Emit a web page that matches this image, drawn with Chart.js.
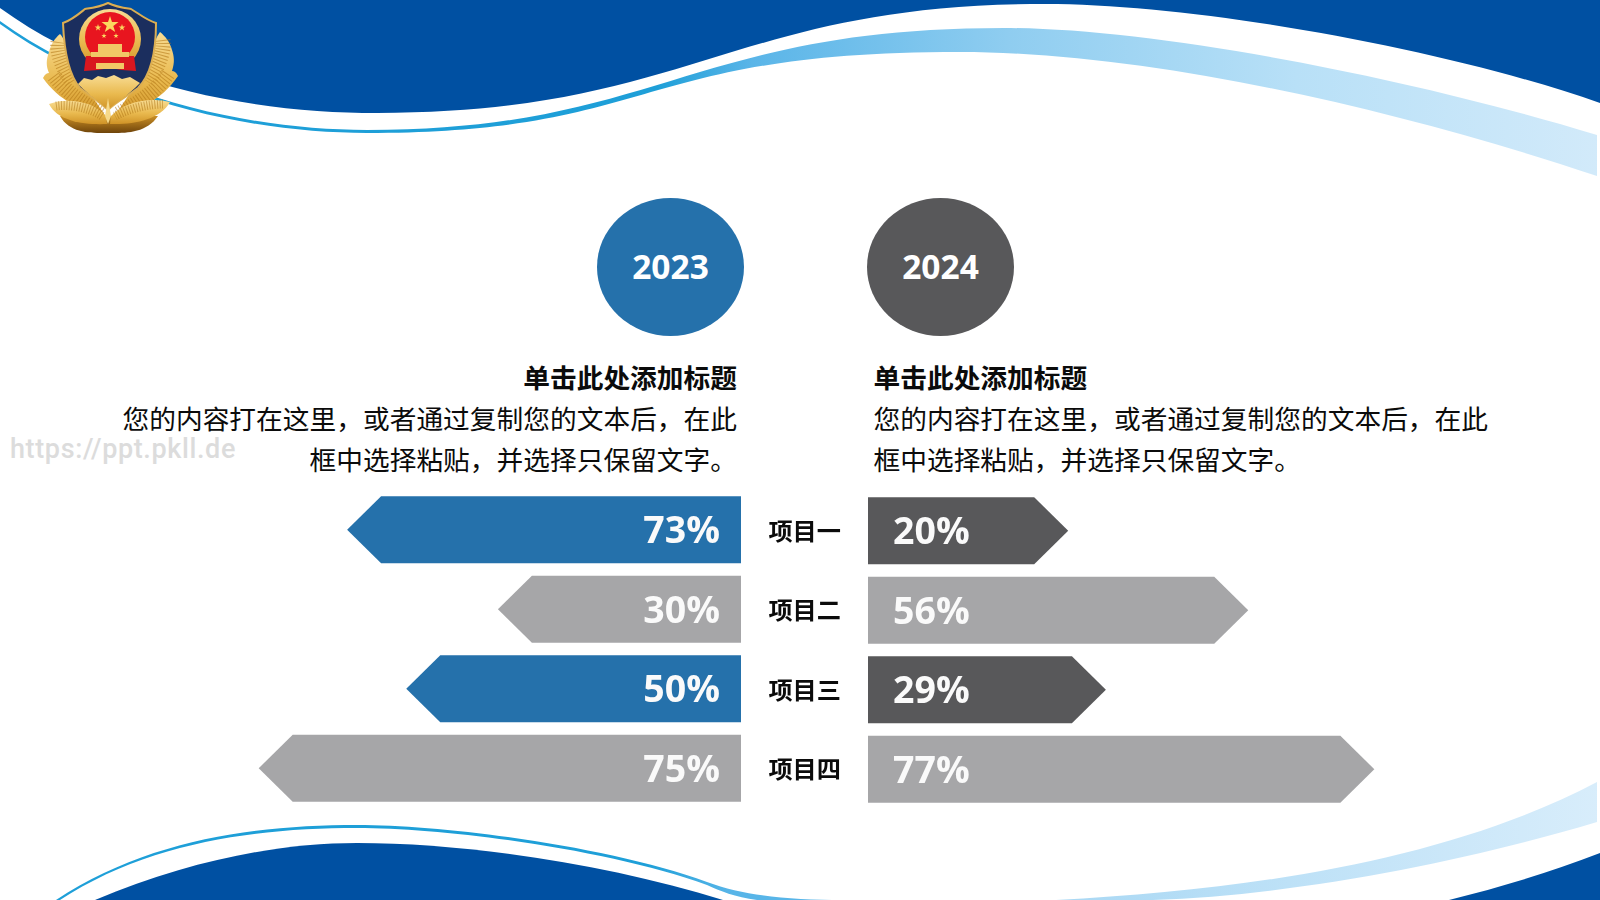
<!DOCTYPE html>
<html lang="zh-CN">
<head>
<meta charset="utf-8">
<title>2023 / 2024</title>
<script src="https://cdn.jsdelivr.net/npm/chart.js@4/dist/chart.umd.min.js"></script>
<style>
html,body{margin:0;padding:0;background:#fff;width:1600px;height:900px;overflow:hidden}
#stage{position:relative;width:1600px;height:900px;overflow:hidden;font-family:"Noto Sans CJK SC","Noto Sans",sans-serif;color:#0b0b0b}
#bg{position:absolute;left:0;top:0}
canvas.c{position:absolute}
.t{position:absolute;font-size:26.7px;line-height:41px;white-space:nowrap;letter-spacing:.03px}
.b{font-weight:700}
.r{text-align:right}
.year{position:absolute;top:197.5px;width:147px;height:138px;border-radius:50%;color:#fff;font:700 33.5px/137px "Open Sans",sans-serif;text-align:center}
#wm{position:absolute;left:10px;top:431px;font:500 27px/36px Roboto,sans-serif;color:#dcdcdc;letter-spacing:.62px;white-space:nowrap}
</style>
</head>
<body>
<div id="stage">
<svg id="bg" width="1600" height="900" viewBox="0 0 1600 900" xmlns="http://www.w3.org/2000/svg">
<defs>
<linearGradient id="bandTop" gradientUnits="userSpaceOnUse" x1="0" y1="0" x2="1600" y2="0">
<stop offset="0" stop-color="#1e9fd8"/><stop offset=".41" stop-color="#1e9fd8"/><stop offset=".47" stop-color="#5ab5e8"/><stop offset=".63" stop-color="#8fcdf0"/><stop offset=".81" stop-color="#b8e0f7"/><stop offset="1" stop-color="#d2eafa"/>
</linearGradient>
<linearGradient id="bandBotL" gradientUnits="userSpaceOnUse" x1="0" y1="0" x2="850" y2="0">
<stop offset="0" stop-color="#1e9fd8"/><stop offset=".76" stop-color="#1e9fd8"/><stop offset=".86" stop-color="#58b5e8"/><stop offset="1" stop-color="#58b5e8"/>
</linearGradient>
<linearGradient id="bandBot" gradientUnits="userSpaceOnUse" x1="1056" y1="0" x2="1600" y2="0">
<stop offset="0" stop-color="#a9d8f4"/><stop offset="1" stop-color="#d8edfb"/>
</linearGradient>
<linearGradient id="gold" x1="0" y1="0" x2="0" y2="1">
<stop offset="0" stop-color="#f8dc93"/><stop offset=".55" stop-color="#e9b94e"/><stop offset="1" stop-color="#cf9226"/>
</linearGradient>
<linearGradient id="base" x1="0" y1="0" x2="0" y2="1">
<stop offset="0" stop-color="#c98e25"/><stop offset="1" stop-color="#6f440a"/>
</linearGradient>
</defs>
<!-- top waves -->
<path fill="#0050a2" d="M0 0 L0 8 C110 88 260 113 377 113 C690 113 732 4 1045 4 C1200 4 1450 50 1600 103 L1600 0 Z"/>
<path fill="url(#bandTop)" d="M0 21 C110 100 255 130 367 130 C657 130 691 28 1004 28 C1150 28 1400 75 1597 135 L1597 176 C1400 110 1150 52 960 52 C631 52 660 133 367 133 C255 133 110 103 0 24 Z"/>
<!-- bottom waves -->
<path fill="#0050a2" d="M95 900 C190 860 280 843 357 843 C470 843 610 865 723 900 Z"/>
<path fill="#0050a2" d="M1449 900 Q1530 880 1600 853 L1600 900 Z"/>
<path fill="url(#bandBotL)" d="M56 900 C150 838 260 825 357 825 C450 825 610 847 707 882 C745 896 790 900 843 900 L757 900 C735 897 720 891 707 885 C610 850 450 828 357 828 C260 828 150 841 60 900 Z"/>
<path fill="url(#bandBot)" d="M1056 900 C1250 890 1450 860 1597 782 L1597 822 C1470 860 1300 895 1153 900 Z"/>
<g id="emblem">
<!-- laurel wings -->
<path d="M108 120 C84 112 58 100 43 78 C45 74 47 73 49 73 C46 66 46 60 49 52 C51 44 55 38 60 34 C66 40 72 60 84 84 Z" fill="url(#gold)"/>
<path d="M112 120 C136 112 162 100 178 76 C176 72 174 71 172 71 C175 62 174 56 172 50 C170 42 165 36 160 32 C154 40 148 60 136 84 Z" fill="url(#gold)"/>
<g fill="none" stroke="#b07414" opacity=".55" stroke-width="15" stroke-dasharray="1 2">
<path d="M54 76 C66 92 84 104 102 114"/>
<path d="M168 74 C156 92 136 104 118 114"/>
<path d="M58 42 C56 54 64 70 72 82"/>
<path d="M163 40 C165 54 156 70 148 82"/>
</g>
<!-- shield -->
<path d="M63 23 C72 20 80 13 85 9 C92 8 100 7 108 3 C116 7 124 8 131 9 C138 13 146 20 156 23 C156 48 152 74 138 88 C128 96 116 102 108 110 C100 102 90 96 80 88 C68 74 64 48 63 23 Z" fill="#1b2e5e" stroke="#dcae52" stroke-width="2"/>
<!-- city wall bottom -->
<path d="M78 84 L84 78 L92 80 L98 76 L106 78 L114 75 L122 79 L130 77 L140 83 C128 96 116 102 108 110 C100 102 90 96 78 84 Z" fill="url(#gold)"/>
<!-- state emblem -->
<ellipse cx="110" cy="39" rx="31" ry="30" fill="url(#gold)"/>
<ellipse cx="110" cy="37" rx="25" ry="25" fill="#e8151f"/>
<path d="M86 56 L134 56 L136 71 L122 70 L110 68 L98 70 L84 71 Z" fill="#d9171f"/>
<path d="M91 52 L129 52 L129 57 L91 57 Z M98 44 L122 44 L122 52 L98 52 Z M96 63 L124 63 L124 69 L96 69 Z" fill="#f1c866"/>
<path d="M110 16 L112 22 L118.5 22 L113.3 26 L115.2 32 L110 28.4 L104.8 32 L106.7 26 L101.5 22 L108 22 Z M98 24 L98.8 26.4 L101.4 26.4 L99.3 28 L100 30.4 L98 29 L96 30.4 L96.7 28 L94.6 26.4 L97.2 26.4 Z M122 24 L122.8 26.4 L125.4 26.4 L123.3 28 L124 30.4 L122 29 L120 30.4 L120.7 28 L118.6 26.4 L121.2 26.4 Z M104 33 L104.6 35 L106.6 35 L105 36.2 L105.6 38 L104 37 L102.4 38 L103 36.2 L101.4 35 L103.4 35 Z M116 33 L116.6 35 L118.6 35 L117 36.2 L117.6 38 L116 37 L114.4 38 L115 36.2 L113.4 35 L115.4 35 Z" fill="#fbd75f"/>
<!-- base -->
<path d="M60 116 C70 134 92 133 108 133 C124 133 146 134 158 116 Z" fill="url(#base)"/>
<path d="M49 104 C66 97 94 101 106 116 L107 124 C86 125 58 122 49 104 Z" fill="url(#gold)"/>
<path d="M170 102 C152 97 124 101 111 116 L110 124 C132 125 160 120 170 102 Z" fill="url(#gold)"/>
<g fill="none" stroke="#a96f12" opacity=".5" stroke-width="9" stroke-dasharray="1 1.6">
<path d="M56 106 C70 104 90 108 102 116"/>
<path d="M163 104 C150 104 130 108 115 116"/>
</g>
<path d="M108 98 L105 116 L108 124 L111 116 Z" fill="#f6d98a"/>
</g>
</svg>

<div class="year" style="left:597px;background:#2571ab">2023</div>
<div class="year" style="left:867px;background:#58585a">2024</div>

<div class="t b r" style="right:863px;top:356px">单击此处添加标题</div>
<div class="t r" style="right:863px;top:397px">您的内容打在这里，或者通过复制您的文本后，在此</div>
<div class="t r" style="right:863px;top:438px">框中选择粘贴，并选择只保留文字。</div>
<div class="t b" style="left:873.5px;top:356px">单击此处添加标题</div>
<div class="t" style="left:873.5px;top:397px">您的内容打在这里，或者通过复制您的文本后，在此</div>
<div class="t" style="left:873.5px;top:438px">框中选择粘贴，并选择只保留文字。</div>
<div id="wm">https://ppt.pkll.de</div>

<canvas class="c" id="left" width="650" height="318" style="left:91px;top:490px"></canvas>
<canvas class="c" id="right" width="777" height="318" style="left:741px;top:491px"></canvas>
</div>

<script>
// ---- chart data ----
const categories = ['项目一', '项目二', '项目三', '项目四'];
// percentages printed on the arrows
const labels2023 = [73, 30, 50, 75];
const labels2024 = [20, 56, 29, 77];
// arrow lengths as drawn in the reference (they do not track the printed numbers)
const lengths2023 = [60.6, 37.4, 51.5, 74.2];
const lengths2024 = [30.8, 58.5, 36.6, 77.9];
const colors2023 = ['#2571ab', '#a6a6a8', '#2571ab', '#a6a6a8'];
const colors2024 = ['#58585a', '#a6a6a8', '#58585a', '#a6a6a8'];

// ---- arrow bars and their labels ----
const arrowBars = {
  id: 'arrowBars',
  beforeDatasetDraw(chart, args) {
    const ctx = chart.ctx, meta = args.meta, ds = chart.data.datasets[args.index];
    const sign = ds.direction;
    meta.data.forEach((el, i) => {
      const h = el.height / 2, head = 34;
      ctx.save();
      ctx.fillStyle = el.options.backgroundColor;
      ctx.beginPath();
      ctx.moveTo(el.base, el.y - h);
      ctx.lineTo(el.x - sign * head, el.y - h);
      ctx.lineTo(el.x, el.y);
      ctx.lineTo(el.x - sign * head, el.y + h);
      ctx.lineTo(el.base, el.y + h);
      ctx.closePath();
      ctx.fill();
      ctx.fillStyle = '#fafafa';
      ctx.font = '700 37.5px "Open Sans", sans-serif';
      ctx.textBaseline = 'middle';
      ctx.textAlign = sign < 0 ? 'right' : 'left';
      ctx.fillText(ds.shown[i] + '%', el.base + sign * (sign < 0 ? 21 : 25), el.y + 3);
      ctx.restore();
    });
    return false;
  }
};

function build(id, lengths, shown, colors, reverse, withLabels) {
  return new Chart(document.getElementById(id), {
    type: 'bar',
    data: {
      labels: categories,
      datasets: [{ data: lengths, shown, direction: reverse ? -1 : 1, backgroundColor: colors, barThickness: 67 }]
    },
    options: {
      indexAxis: 'y',
      responsive: false,
      animation: false,
      layout: { padding: 0 },
      plugins: { legend: { display: false }, tooltip: { enabled: false } },
      scales: {
        x: { display: false, reverse, min: 0, max: 100 },
        y: {
          display: withLabels,
          border: { display: false },
          grid: { display: false, drawTicks: false },
          afterFit(s) {
            if (withLabels) s.width = 127;
            s.paddingTop = 0;
            s.paddingBottom = 0;
          },
          ticks: {
            padding: 27,
            color: '#0b0b0b',
            font: { family: '"Noto Sans CJK SC", sans-serif', size: 24.2, weight: '700' }
          }
        }
      }
    },
    plugins: [arrowBars]
  });
}
build('left', lengths2023, labels2023, colors2023, true, false);
build('right', lengths2024, labels2024, colors2024, false, true);
</script>
</body>
</html>
